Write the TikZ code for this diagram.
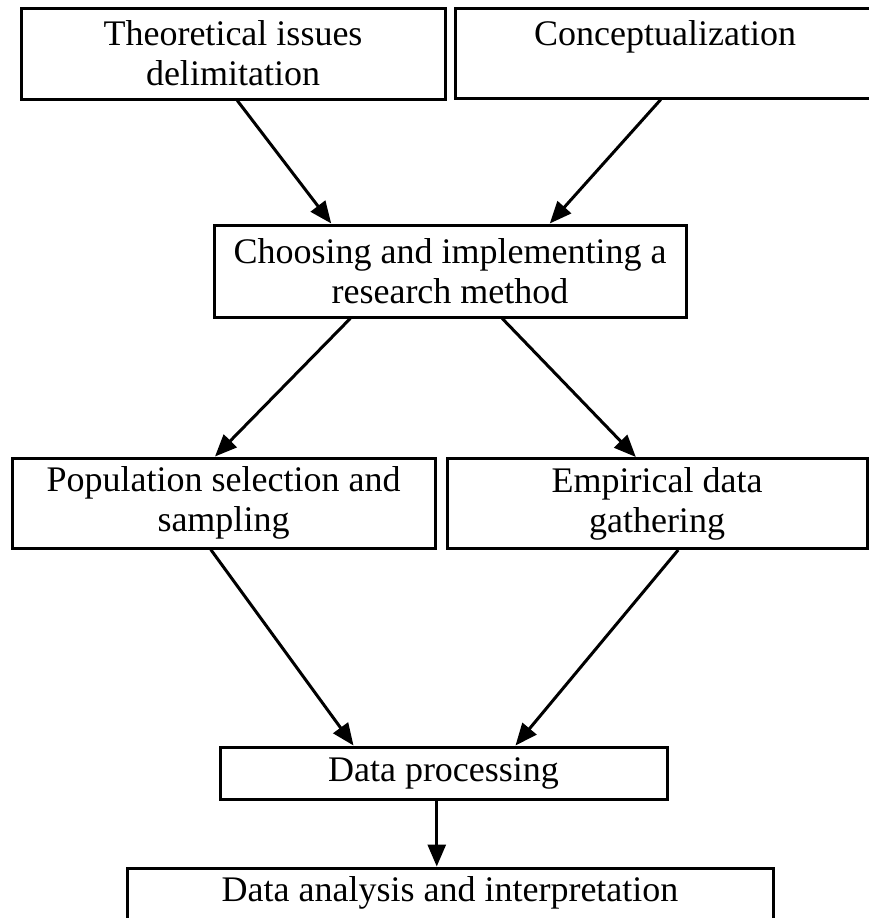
\documentclass[tikz,border=0pt]{standalone}
\usepackage{fontspec}
\setmainfont{Liberation Serif}
\usetikzlibrary{arrows.meta,calc}
\begin{document}
\begin{tikzpicture}[x=1pt,y=-1pt,
 box/.style={draw,line width=3pt,inner sep=0pt,align=center,font=\fontsize{36}{40}\selectfont},
 arr/.style={line width=3pt,-{Triangle[length=22pt,width=18pt]}}]
\useasboundingbox (0,0) rectangle (868,918);
\node[box,minimum width=424pt,minimum height=91pt] (A) at (233,53.5) {Theoretical issues\\delimitation};
\node[box,minimum width=420pt,minimum height=90pt] (B) at (665,53) {Conceptualization\\\mbox{}};
\node[box,minimum width=472pt,minimum height=92pt] (C) at (450,271) {Choosing and implementing a\\research method};
\node[box,minimum width=423pt,minimum height=90pt] (D) at (223.5,503) {Population selection and\\sampling};
\node[box,minimum width=420pt,minimum height=90pt] (E) at (657,503.5) {Empirical data\\gathering};
\node[box,minimum width=447pt,minimum height=52pt] (F) at (443.5,773) {Data processing};
\node[box,minimum width=646pt,minimum height=100pt] (G) at (450,918) {};
\node[font=\fontsize{36}{40}\selectfont,inner sep=0pt] (Gt) at (450,893) {Data analysis and interpretation};
\draw[arr] ($(A.south west)!0.51!(A.south east)$) -- ($(C.north west)!0.25!(C.north east)$);
\draw[arr] ($(B.south west)!0.49!(B.south east)$) -- ($(C.north west)!0.71!(C.north east)$);
\draw[arr] ($(C.south west)!0.29!(C.south east)$) -- ($(D.north west)!0.48!(D.north east)$);
\draw[arr] ($(C.south west)!0.61!(C.south east)$) -- ($(E.north west)!0.45!(E.north east)$);
\draw[arr] ($(D.south west)!0.47!(D.south east)$) -- ($(F.north west)!0.30!(F.north east)$);
\draw[arr] ($(E.south west)!0.55!(E.south east)$) -- ($(F.north west)!0.66!(F.north east)$);
\coordinate (fs) at ($(F.south west)!0.485!(F.south east)$);
\draw[arr] (fs) -- (fs |- G.north);
\end{tikzpicture}
\end{document}
